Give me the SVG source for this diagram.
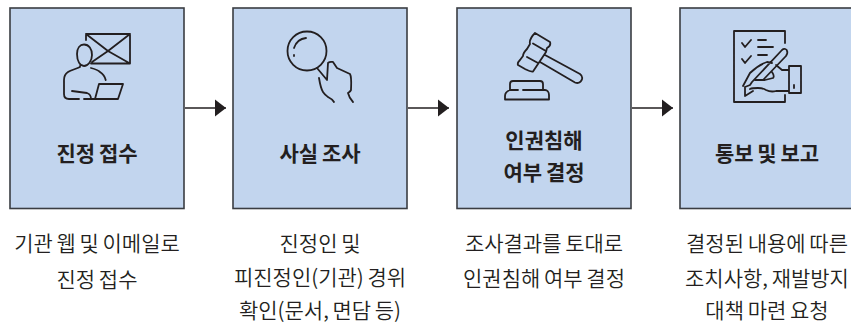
<svg xmlns="http://www.w3.org/2000/svg" width="851" height="324" viewBox="0 0 851 324">
<defs><marker id="ah" markerUnits="userSpaceOnUse" markerWidth="11" markerHeight="18" refX="11" refY="9" orient="auto"><path d="M0 0.5L11 9L0 17.5Z" fill="#231f20"/></marker></defs>
<style>
.box{fill:#c2d5ee;stroke:#3a3d42;stroke-width:1.6}
.ic{fill:none;stroke:#231f20;stroke-width:1.8;stroke-linecap:round;stroke-linejoin:round}
.t{font-family:"Noto Sans CJK KR","Noto Sans",sans-serif;text-anchor:middle;fill:#231f20}
.h{font-size:21px;font-weight:700;word-spacing:-1px}
.d{font-size:21px;font-weight:350;word-spacing:-1px}
.c{fill:none;stroke:#231f20;stroke-width:1.5}
</style>
<rect width="851" height="324" fill="#fff"/>
<g id="connectors">
<path class="c" d="M185 108H226" marker-end="url(#ah)"/>
<path class="c" d="M408 108H449" marker-end="url(#ah)"/>
<path class="c" d="M632 108H673" marker-end="url(#ah)"/>
</g>
<g id="node1"><rect class="box" x="10" y="8" width="174" height="200.500"/>
<path class="ic" d="M86 40V34H130V63.500H91M86 34L108 51L130 34M130 63.500L108 51L92 62"/>
<path class="ic" d="M84 44.500C89 44.500 92 49 92 55C92 61 88 66 84 66C80 66 77 61 77 54C77 48 80 44.500 84 44.500ZM80 66V67C76 69 71 70 68 72C65 74 64 77 64 80V94C64 97 66 99 69 99H79M91 68C95 69 98 70 100 72C103 74 105 77 105.700 80M72 91L87 93C90 94 91 96 91 99H84M95 99L99 84H123L118 99H91"/>
</g>
<g id="node2"><rect class="box" x="233" y="8" width="174" height="200.500"/>
<circle class="ic" cx="307" cy="51" r="19.500"/>
<path class="ic" d="M306 38C301 38.500 296 42 294 48M294 55V56M317 68L327 80L328 63C330 61 332 62 333 62L337 68L350 74C352 78 351 86 351 90C350 92 349 92 348 93C349 97 351 100 353 102M319 78C320 84 321 89 323 92C325 95 327 96 328 97C330 98 333 100 334 102"/>
</g>
<g id="node3"><rect class="box" x="457" y="8" width="174" height="200.500"/>
<path class="ic" d="M535 33L550 42C551 45 549 47 547 48L546 52L533 71.500C530 72 527 70 525 69L518 65C517 63 519 61 520 60L523 56C523 53 525 51 527 49L530 44C529 40 532 36 535 33ZM533 43.500L545 50.500M527 57L538 63M545 55L580 74C584 77 582 82 578 83C577 83 576 83 575 82.500L540 62M510 90V84C510 82 511 81 513 81H540C542 81 543 82 543 84V90M510 90C507 91 505 93 505 96V99.500H549V95C549 92 547 90 545 90H523M510 90H518"/>
</g>
<g id="node4"><rect class="box" x="680" y="8" width="174" height="200.500"/>
<path class="ic" d="M785 43V31H734V102H785V95M742 43L745 47L751 40M742 59L745 63L751 56M758 40H766M758 47H773M758 55H767M752 82L782 50C784 48 787 49 787 51C788 53 787 54 786 56L763 80M743 86L750 73C755 68 761 64 767 62L772 63M776 65L782 70H789M789 66H801V93H789ZM794 85V88M789 91H776C772 92 770 92 766 90C763 88 761 88 758 88C755 88 752 88 750 89M745 87V96L753 91M745 87L750 85L752 82M772 72C774 75 774 77 773 78L765 80H755"/>
</g>
<g class="t h">
<text x="97" y="161">진정 접수</text>
<text x="320" y="161">사실 조사</text>
<text x="544" y="148">인권침해</text>
<text x="544" y="180">여부 결정</text>
<text x="767" y="161">통보 및 보고</text>
</g>
<g class="t d">
<text x="97" y="251">기관 웹 및 이메일로</text>
<text x="97" y="287">진정 접수</text>
<text x="320" y="251">진정인 및</text>
<text x="320" y="285">피진정인(기관) 경위</text>
<text x="320" y="318">확인(문서, 면담 등)</text>
<text x="544" y="251">조사결과를 토대로</text>
<text x="544" y="286">인권침해 여부 결정</text>
<text x="767" y="251">결정된 내용에 따른</text>
<text x="767" y="286">조치사항, 재발방지</text>
<text x="767" y="318">대책 마련 요청</text>
</g>
</svg>
